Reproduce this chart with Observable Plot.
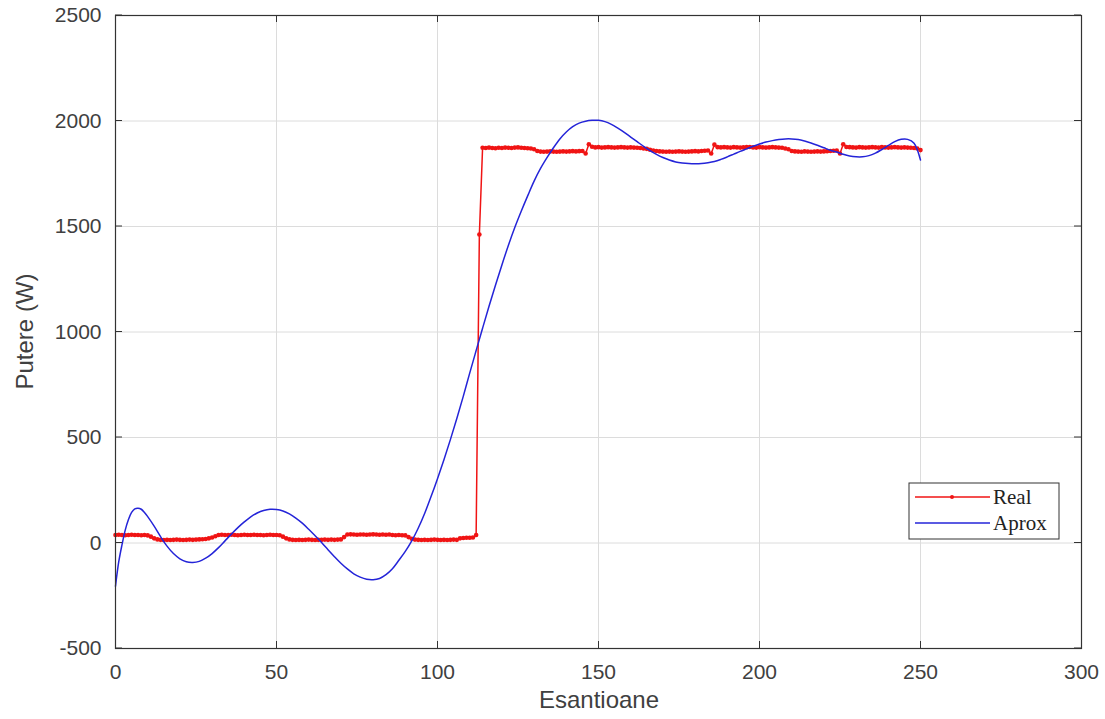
<!DOCTYPE html>
<html>
<head>
<meta charset="utf-8">
<script src="https://cdn.jsdelivr.net/npm/d3@7"></script>
<script src="https://cdn.jsdelivr.net/npm/@observablehq/plot@0.6"></script>
<style>
  html, body { margin: 0; padding: 0; background: #ffffff; }
  #chart { position: relative; width: 1105px; height: 719px; }
</style>
</head>
<body>
<div id="chart"></div>
<script>
// ---- data ----
const xTicks = [0, 50, 100, 150, 200, 250, 300];
const yTicks = [-500, 0, 500, 1000, 1500, 2000, 2500];
const xLabel = "Esantioane";
const yLabel = "Putere (W)";
const legendNames = ["Real", "Aprox"];

// Real series: one value per sample, sample index 0..250
const realValues = [
  38,39,38,37,38,39,38,38,37,38,36,
  30,22,17,
  15,14,15,14,15,16,15,14,15,16,15,16,17,18,19,
  22,26,32,
  38,39,38,38,39,38,37,38,39,38,38,39,38,38,37,38,39,38,38,37,
  30,22,17,15,
  14,15,14,15,16,15,14,15,15,16,15,16,15,16,17,
  28,
  40,41,40,39,40,40,39,40,41,40,39,40,39,40,38,37,38,37,36,
  28,20,16,
  15,14,15,14,15,16,15,14,15,14,15,16,15,
  22,24,25,25,26,
  38,1462,
  1873,1872,1874,1872,1871,1873,1872,1874,1873,1872,1874,1875,1873,1872,1871,1870,1866,
  1858,1855,1854,1855,1856,1855,1854,1855,1856,1855,1856,1857,1856,1857,1858,
  1846,1890,1878,
  1875,1876,1874,1875,1876,1875,1874,1875,1876,1875,1874,1875,1874,1873,1872,1870,1868,1864,1860,1858,
  1856,1855,1854,1855,1854,1855,1856,1855,1854,1855,1856,1857,1856,1858,1859,1860,
  1846,1888,1876,
  1875,1876,1875,1874,1876,1875,1874,1875,1876,1877,1875,1874,1876,1875,1874,1875,1876,1875,1874,1873,1870,1866,
  1858,1856,1855,1854,1856,1855,1854,1855,1856,1855,1856,1857,1858,1859,1860,
  1846,1890,1877,
  1876,1875,1874,1876,1875,1874,1875,1876,1875,1874,1876,1875,1874,1875,1876,1875,1874,1875,1874,1873,1872,1870,1862
];

// Aprox series
const aproxX = [0,1,2,3,4,5,6,7,8,9,10,12,14,16,18,20,22,24,26,28,30,32,34,36,38,40,42,44,46,48,50,52,54,56,58,60,62,64,66,68,70,72,74,76,78,80,82,84,86,88,90,92,94,96,98,100,102,104,106,108,110,112,114,116,118,120,122,124,126,128,130,132,134,136,138,140,142,144,146,148,150,152,154,156,158,160,162,164,166,168,170,172,174,176,178,180,182,184,186,188,190,192,194,196,198,200,202,204,206,208,210,212,214,216,218,220,222,224,226,228,230,232,234,236,238,240,242,244,246,248,250];
const aproxY = [-205,-90,-10,60,110,145,162,165,160,145,125,80,30,-15,-50,-75,-89,-92,-87,-72,-50,-22,10,42,73,100,124,142,154,160,159,152,138,118,94,65,34,2,-32,-65,-96,-123,-146,-162,-172,-174,-168,-150,-122,-82,-40,10,70,140,220,305,395,490,590,695,805,912,1018,1122,1222,1318,1410,1495,1572,1645,1715,1775,1826,1873,1915,1948,1973,1990,1999,2003,2003,1997,1984,1966,1946,1924,1902,1880,1860,1842,1827,1815,1806,1801,1798,1797,1798,1802,1808,1818,1830,1843,1856,1868,1880,1891,1900,1907,1912,1915,1915,1912,1905,1896,1885,1873,1861,1853,1842,1834,1830,1830,1836,1848,1865,1884,1902,1913,1913,1895,1815];

const real = realValues.map((v, i) => ({x: i, y: v}));
const aprox = aproxX.map((x, i) => ({x, y: aproxY[i]}));

// ---- chart ----
const W = 1105, H = 719;
const mL = 115, mR = 24, mT = 15, mB = 71;
const innerH = H - mT - mB;
const red = "#f01414";
const blue = "#2424d8";
const textColor = "#404040";

const chart = Plot.plot({
  width: W, height: H,
  marginLeft: mL, marginRight: mR, marginTop: mT, marginBottom: mB,
  style: {fontFamily: "'Liberation Sans', Arial, sans-serif", fontSize: "21px", color: textColor, background: "white", overflow: "visible"},
  x: {domain: [0, 300], label: null},
  y: {domain: [-500, 2500], label: null},
  marks: [
    Plot.gridX(xTicks, {stroke: "#dcdcdc", strokeOpacity: 1, strokeWidth: 1}),
    Plot.gridY(yTicks, {stroke: "#dcdcdc", strokeOpacity: 1, strokeWidth: 1}),
    Plot.tickX(xTicks, {x: d => d, stroke: "#333", insetTop: innerH - 7}),
    Plot.tickX(xTicks, {x: d => d, stroke: "#333", insetBottom: innerH - 7}),
    Plot.axisX(xTicks, {tickSize: 0, tickPadding: 16, fontSize: 21, fill: textColor, label: null, tickFormat: d => String(d)}),
    Plot.axisY(yTicks, {tickSize: 0, tickPadding: 14, fontSize: 21, fill: textColor, label: null, tickFormat: d => String(d)}),
    Plot.line(real, {x: "x", y: "y", stroke: red, strokeWidth: 1.5}),
    Plot.dot(real, {x: "x", y: "y", fill: red, r: 2.3, stroke: "none"}),
    Plot.line(aprox, {x: "x", y: "y", stroke: blue, strokeWidth: 1.5, curve: "catmull-rom"}),
    Plot.frame({stroke: "#333", strokeWidth: 1.2})
  ]
});

document.getElementById("chart").appendChild(chart);

// y ticks inward on left and right sides
const svg = d3.select(chart);
const yS = chart.scale("y");
const gT = svg.append("g").attr("stroke", "#333").attr("stroke-width", 1);
yTicks.forEach(t => {
  const yy = yS.apply(t);
  gT.append("line").attr("x1", mL).attr("x2", mL + 7).attr("y1", yy).attr("y2", yy);
  gT.append("line").attr("x1", W - mR - 7).attr("x2", W - mR).attr("y1", yy).attr("y2", yy);
});

// axis titles
svg.append("text")
  .attr("x", (mL + W - mR) / 2 + 1).attr("y", 708)
  .attr("text-anchor", "middle")
  .attr("font-size", 24).attr("fill", textColor)
  .text(xLabel);
svg.append("text")
  .attr("transform", `translate(33, ${(mT + H - mB) / 2}) rotate(-90)`)
  .attr("text-anchor", "middle")
  .attr("font-size", 24).attr("fill", textColor)
  .text(yLabel);

// legend
const lg = svg.append("g").attr("font-family", "'Liberation Serif', 'Times New Roman', serif").attr("font-size", 21);
lg.append("rect").attr("x", 909).attr("y", 483).attr("width", 150).attr("height", 56)
  .attr("fill", "white").attr("stroke", "#333").attr("stroke-width", 1);
const entries = [{name: legendNames[0], color: red, y: 497, dot: true}, {name: legendNames[1], color: blue, y: 523, dot: false}];
entries.forEach(e => {
  lg.append("line").attr("x1", 915).attr("x2", 990).attr("y1", e.y).attr("y2", e.y)
    .attr("stroke", e.color).attr("stroke-width", 1.3);
  if (e.dot) lg.append("circle").attr("cx", 952).attr("cy", e.y).attr("r", 2).attr("fill", e.color);
  lg.append("text").attr("x", 993).attr("y", e.y + 7).attr("text-anchor", "start").attr("fill", "#222").text(e.name);
});
</script>
</body>
</html>
